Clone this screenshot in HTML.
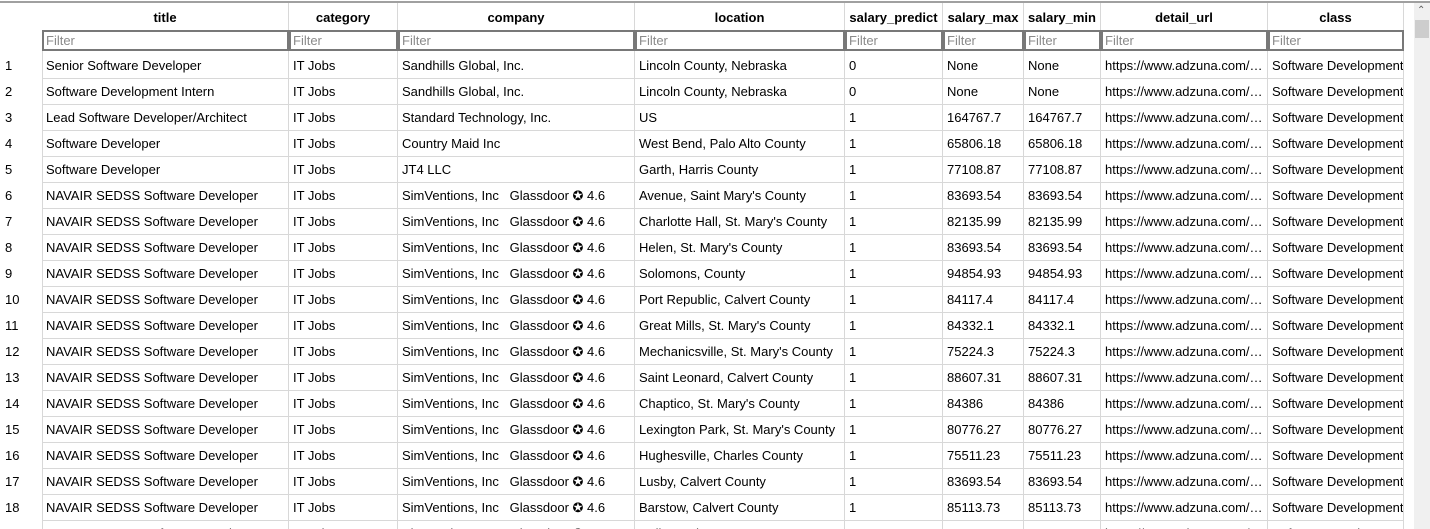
<!DOCTYPE html>
<html style="height:529px;overflow:hidden"><head><meta charset="utf-8">
<style>
body{margin:0;width:1430px;height:529px;overflow:hidden;background:#fff;font-family:"Liberation Sans",Arial,sans-serif;font-size:13px;color:#000;position:relative}
.c{position:absolute;white-space:nowrap;overflow:hidden;box-sizing:border-box;padding-left:4px;line-height:26px;height:26px}
.h{position:absolute;font-weight:bold;text-align:center;top:3px;height:27px;line-height:29px;box-sizing:border-box;border-right:1px solid #d8d8d8}
.f{position:absolute;top:30px;height:21px;box-sizing:border-box;border:2px solid #787878;color:#8a8a8a;line-height:17px;padding-left:2px;font-size:13px;background:#fff}
.vl{position:absolute;width:1px;background:#d8d8d8}
.hl{position:absolute;height:1px;background:#d8d8d8;left:42px;width:1362px}
</style></head><body>
<div style="position:absolute;left:0;top:1px;width:1430px;height:2px;background:#a0a0a0"></div>
<div style="position:absolute;left:1414px;top:3px;width:16px;height:526px;background:#f0f0f0">
<div style="position:absolute;left:3px;top:2px;font-size:10px;color:#606060">&#8963;</div>
<div style="position:absolute;left:1px;top:17px;width:14px;height:18px;background:#cdcdcd"></div>
</div>
<div id="grid"></div>
<script>
const cols=[["title",42,247],["category",289,109],["company",398,237],["location",635,210],["salary_predict",845,98],["salary_max",943,81],["salary_min",1024,77],["detail_url",1101,167],["class",1268,136]];
const S="NAVAIR SEDSS Software Developer",G="SimVentions, Inc\u00a0\u00a0\u00a0Glassdoor \u272a 4.6",U="https://www.adzuna.com/\u2026",D="Software Development";
const rows=[
["Senior Software Developer","IT Jobs","Sandhills Global, Inc.","Lincoln County, Nebraska","0","None","None",U,D],
["Software Development Intern","IT Jobs","Sandhills Global, Inc.","Lincoln County, Nebraska","0","None","None",U,D],
["Lead Software Developer/Architect","IT Jobs","Standard Technology, Inc.","US","1","164767.7","164767.7",U,D],
["Software Developer","IT Jobs","Country Maid Inc","West Bend, Palo Alto County","1","65806.18","65806.18",U,D],
["Software Developer","IT Jobs","JT4 LLC","Garth, Harris County","1","77108.87","77108.87",U,D],
[S,"IT Jobs",G,"Avenue, Saint Mary's County","1","83693.54","83693.54",U,D],
[S,"IT Jobs",G,"Charlotte Hall, St. Mary's County","1","82135.99","82135.99",U,D],
[S,"IT Jobs",G,"Helen, St. Mary's County","1","83693.54","83693.54",U,D],
[S,"IT Jobs",G,"Solomons, County","1","94854.93","94854.93",U,D],
[S,"IT Jobs",G,"Port Republic, Calvert County","1","84117.4","84117.4",U,D],
[S,"IT Jobs",G,"Great Mills, St. Mary's County","1","84332.1","84332.1",U,D],
[S,"IT Jobs",G,"Mechanicsville, St. Mary's County","1","75224.3","75224.3",U,D],
[S,"IT Jobs",G,"Saint Leonard, Calvert County","1","88607.31","88607.31",U,D],
[S,"IT Jobs",G,"Chaptico, St. Mary's County","1","84386","84386",U,D],
[S,"IT Jobs",G,"Lexington Park, St. Mary's County","1","80776.27","80776.27",U,D],
[S,"IT Jobs",G,"Hughesville, Charles County","1","75511.23","75511.23",U,D],
[S,"IT Jobs",G,"Lusby, Calvert County","1","83693.54","83693.54",U,D],
[S,"IT Jobs",G,"Barstow, Calvert County","1","85113.73","85113.73",U,D],
[S,"IT Jobs",G,"Hollywood, St. Mary's County","1","83693.54","83693.54",U,D]];
const g=document.getElementById('grid');
function add(cls,st,txt){const e=document.createElement('div');e.className=cls;e.style.cssText=st;if(txt!=null)e.textContent=txt;g.appendChild(e);return e;}
cols.forEach(c=>{
 const h=add('h',`left:${c[1]}px;width:${c[2]}px`,c[0]);
 
 
 const f=add('f',`left:${c[1]}px;width:${c[2]}px`,'Filter');
 
 
 const v=add('vl',`left:${c[1]+c[2]-1}px;top:51px;height:478px`);
 
 
});
const v0=add('vl','left:42px;top:51px;height:478px');


rows.forEach((r,i)=>{
 const top=53+26*i;
 const n=add('c',`left:0;top:${top}px;width:42px;padding-left:5px`,String(i+1));
 
 
 r.forEach((t,j)=>{
  const c=cols[j];
  const e=add('c',`left:${c[1]}px;top:${top}px;width:${c[2]-1}px`,t);
  
  
 });
 const l=add('hl',`top:${top+25}px`);
 
 
});
</script>
</body></html>
